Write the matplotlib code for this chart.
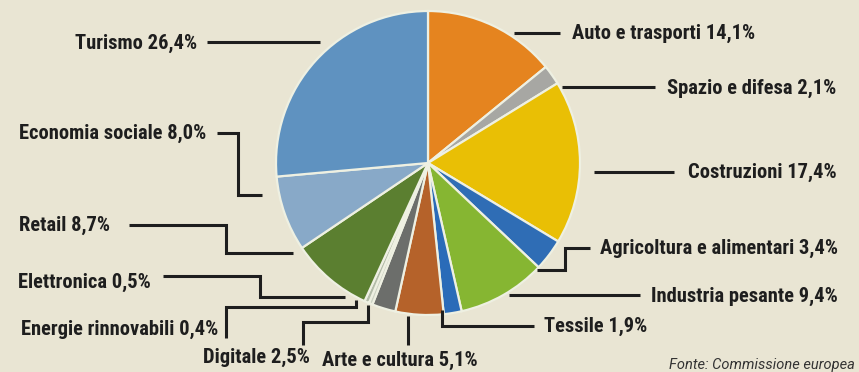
import matplotlib
matplotlib.use("Agg")
import matplotlib.pyplot as plt

# sectors, clockwise from 12 o'clock
sectors = ["Auto e trasporti", "Spazio e difesa", "Costruzioni",
           "Agricoltura e alimentari", "Industria pesante", "Tessile",
           "Arte e cultura", "Digitale", "Energie rinnovabili", "Elettronica",
           "Retail", "Economia sociale", "Turismo"]
shares = [14.1, 2.1, 17.4, 3.4, 9.4, 1.9, 5.1, 2.5, 0.4, 0.5, 8.7, 8.0, 26.4]
colors = ["#e5841f", "#a7a7a3", "#e9bf05", "#2f6db5", "#86b632", "#2a6bb8",
          "#b5622a", "#6c6e6b", "#cdd3c4", "#b3bca9", "#5b7f30", "#88a9c8",
          "#5f92c0"]
source = "Fonte: Commissione europea"

W, H = 859, 372
BG = "#e9e5d3"
FONT = ["Roboto Condensed", "DejaVu Sans"]

# label layout in pixel units: (x, y, ha) and the leader polyline
label_pos = {
    "Turismo": (197, 43, "right"),
    "Economia sociale": (206, 133, "right"),
    "Retail": (110, 225, "right"),
    "Elettronica": (151, 282, "right"),
    "Energie rinnovabili": (218, 329, "right"),
    "Digitale": (203, 357, "left"),
    "Arte e cultura": (322, 360, "left"),
    "Tessile": (544, 326, "left"),
    "Industria pesante": (838, 296, "right"),
    "Agricoltura e alimentari": (838, 248, "right"),
    "Costruzioni": (837, 172, "right"),
    "Spazio e difesa": (836, 88, "right"),
    "Auto e trasporti": (572, 33, "left"),
}
leaders = {
    "Turismo": [(207, 42), (320, 42)],
    "Economia sociale": [(217, 133), (238, 133), (238, 195), (262, 195)],
    "Retail": [(129, 225), (226, 225), (226, 253), (293, 253)],
    "Elettronica": [(163, 276), (260, 276), (260, 297), (345, 297)],
    "Energie rinnovabili": [(226, 338), (226, 307), (356, 307), (356, 300)],
    "Digitale": [(303, 345), (303, 322), (368, 322), (368, 305)],
    "Arte e cultura": [(408, 345), (408, 316)],
    "Tessile": [(534, 326), (442, 326), (442, 310)],
    "Industria pesante": [(640, 295), (509, 295)],
    "Agricoltura e alimentari": [(590, 248), (565, 248), (565, 270), (537, 270)],
    "Costruzioni": [(674, 172), (594, 172)],
    "Spazio e difesa": [(655, 87), (562, 87)],
    "Auto e trasporti": [(560, 33), (514, 33)],
}

fig = plt.figure(figsize=(W / 100, H / 100), dpi=100, facecolor=BG)
ax = fig.add_axes([0, 0, 1, 1])
ax.set_facecolor(BG)

# y axis is inverted, so startangle -90 / counterclock=True gives
# clockwise wedges starting at the top on screen
ax.pie(shares, colors=colors, startangle=-90, counterclock=True,
       center=(428, 163), radius=152, frame=True,
       wedgeprops=dict(edgecolor="#eef0e2", linewidth=1.6))
ax.set_xlim(0, W)
ax.set_ylim(H, 0)
ax.set_aspect("equal")
ax.axis("off")

for name, val in zip(sectors, shares):
    x, y, ha = label_pos[name]
    txt = f"{name} {val:.1f}%".replace(".", ",")
    ax.text(x, y, txt, ha=ha, va="center", fontsize=14.8, fontweight="bold",
            fontstretch="condensed", family=FONT, color="#1e1e1e")
    xs, ys = zip(*leaders[name])
    ax.plot(xs, ys, color="#1e1e1e", lw=2.2, solid_capstyle="butt",
            solid_joinstyle="miter")

ax.text(855, 365, source, ha="right", va="center", fontsize=10.5,
        style="italic", family=["Roboto", "DejaVu Sans"], color="#333333")

fig.savefig("out.png", dpi=100, facecolor=BG)
